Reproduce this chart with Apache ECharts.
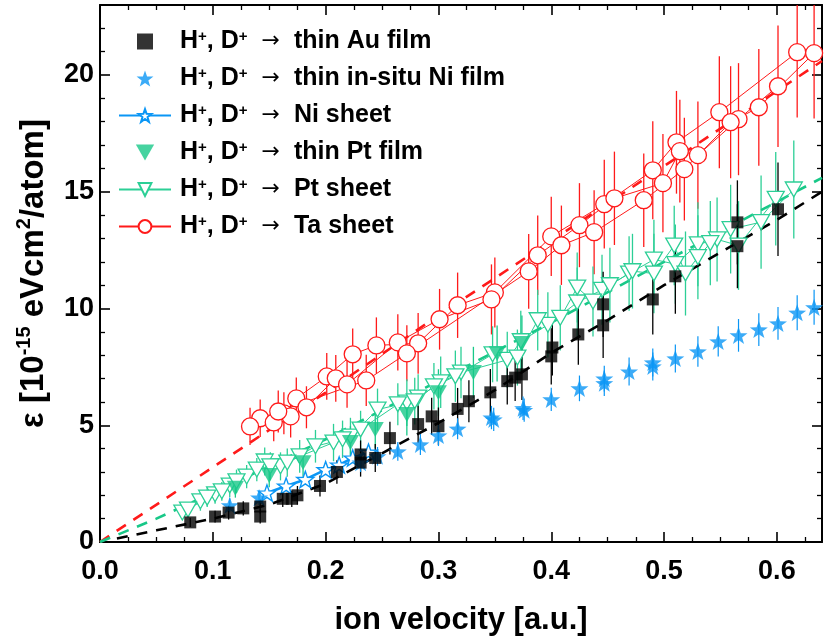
<!DOCTYPE html>
<html><head><meta charset="utf-8">
<script src="https://cdn.jsdelivr.net/npm/echarts@6/dist/echarts.min.js"></script>
<style>html,body{margin:0;padding:0;background:#fff;overflow:hidden}#c{width:825px;height:641px}</style>
</head><body><div id="c"></div>
<script>
// ---- tick labels ----
const xTicks = ['0.0','0.1','0.2','0.3','0.4','0.5','0.6'];
const yTicks = ['0','5','10','15','20'];
// ---- data: [velocity, stopping, error] ----
const auFilm = [[0.080,0.84,0.2],[0.102,1.09,0.25],[0.114,1.26,0.3],[0.127,1.44,0.3],[0.142,1.52,0.3],[0.142,1.09,0.3],[0.162,1.85,0.35],[0.170,1.85,0.35],[0.175,2.0,0.4],[0.195,2.4,0.45],[0.210,3.0,0.5],[0.231,3.75,0.6],[0.231,3.4,0.6],[0.244,3.6,0.6],[0.257,4.45,0.7],[0.282,5.05,0.8],[0.294,5.38,0.8],[0.300,4.96,0.8],[0.317,5.7,0.9],[0.327,6.03,0.9],[0.346,6.41,1.0],[0.361,6.89,1.0],[0.368,7.04,1.0],[0.374,7.18,1.1],[0.400,7.95,1.2],[0.401,8.33,1.2],[0.424,8.89,1.3],[0.446,10.18,1.4],[0.446,9.28,1.4],[0.490,10.39,1.5],[0.510,11.38,1.6],[0.565,13.69,1.8],[0.565,12.67,1.8],[0.601,14.25,2.0]];
const niFilm = [[0.115,1.57,0.3],[0.141,1.9,0.3],[0.231,3.4,0.4],[0.246,3.67,0.4],[0.264,3.88,0.4],[0.284,4.18,0.45],[0.300,4.56,0.45],[0.317,4.85,0.45],[0.347,5.33,0.5],[0.349,5.25,0.5],[0.375,5.73,0.5],[0.376,5.65,0.5],[0.400,6.11,0.5],[0.425,6.58,0.55],[0.447,7.0,0.55],[0.447,6.8,0.55],[0.469,7.3,0.6],[0.490,7.69,0.6],[0.490,7.52,0.6],[0.510,7.86,0.6],[0.530,8.16,0.65],[0.548,8.59,0.65],[0.566,8.85,0.7],[0.584,9.1,0.7],[0.601,9.36,0.7],[0.618,9.82,0.75],[0.633,10.05,0.75]];
const niSheet = [[0.148,2.1],[0.165,2.4],[0.182,2.68],[0.200,3.1],[0.212,3.3],[0.224,3.6],[0.238,3.85]];
const ptFilm = [[0.120,2.3,0.4],[0.150,2.85,0.5],[0.180,3.4,0.6],[0.222,4.26,0.7],[0.244,4.82,0.8],[0.272,5.46,0.9],[0.300,6.4,1.0],[0.331,7.26,1.1],[0.352,8.07,1.2],[0.374,8.5,1.2]];
const ptSheetA = [[0.073,1.26,0.3],[0.089,1.74,0.4],[0.102,2.04,0.4],[0.115,2.42,0.5],[0.130,2.8,0.5],[0.146,3.45,0.6],[0.160,3.24,0.6],[0.177,3.67,0.7],[0.207,4.26,0.8],[0.222,4.52,0.8],[0.246,5.67,0.9],[0.272,5.97,1.0],[0.282,6.19,1.0],[0.302,6.84,1.1],[0.320,7.26,1.1],[0.361,7.8,1.2],[0.373,8.6,1.3],[0.397,9.3,1.4],[0.423,10.26,1.5],[0.445,10.8,1.5],[0.469,11.5,1.6],[0.491,12.1,1.7],[0.510,11.9,1.7],[0.530,12.75,1.8],[0.547,12.96,1.8],[0.566,12.7,1.9],[0.599,14.7,2.0]];
const ptSheetB = [[0.078,1.39,0.3],[0.095,1.9,0.4],[0.108,2.17,0.4],[0.121,2.6,0.5],[0.139,3.1,0.5],[0.151,3.24,0.6],[0.166,3.4,0.6],[0.191,4.1,0.7],[0.215,4.4,0.8],[0.231,4.82,0.8],[0.264,5.9,0.9],[0.279,6.03,1.0],[0.296,6.67,1.0],[0.315,7.1,1.1],[0.348,8.04,1.2],[0.370,7.9,1.2],[0.388,9.5,1.3],[0.408,9.6,1.4],[0.423,10.9,1.5],[0.437,10.3,1.5],[0.452,11.0,1.6],[0.472,11.6,1.6],[0.491,11.5,1.7],[0.509,12.7,1.7],[0.519,11.5,1.8],[0.530,12.2,1.8],[0.541,12.8,1.8],[0.559,13.4,1.9],[0.586,13.7,2.0],[0.615,15.1,2.1]];
const taSheetA = [[0.142,5.30,0.8],[0.163,5.51,0.9],[0.174,6.15,0.9],[0.201,7.09,1.0],[0.224,8.04,1.1],[0.245,8.42,1.2],[0.282,8.51,1.3],[0.317,10.14,1.4],[0.350,10.69,1.5],[0.400,13.09,1.7],[0.447,14.47,1.9],[0.490,15.92,2.1],[0.511,17.12,2.2],[0.549,18.41,2.4],[0.618,20.98,2.8]];
const taSheetB = [[0.133,4.95,0.8],[0.154,5.12,0.8],[0.169,5.38,0.9],[0.183,5.77,0.9],[0.209,7.01,1.0],[0.219,6.75,1.0],[0.264,8.55,1.2],[0.301,9.54,1.3],[0.347,10.39,1.5],[0.388,12.28,1.7],[0.425,13.57,1.8],[0.456,14.72,2.0],[0.499,15.37,2.1],[0.514,16.74,2.2],[0.530,16.57,2.3],[0.566,18.11,2.4],[0.601,19.52,2.6]];
const taSheetC = [[0.158,5.59,0.9],[0.236,6.92,1.1],[0.272,8.08,1.2],[0.380,11.59,1.6],[0.409,12.71,1.7],[0.438,13.27,1.8],[0.482,14.64,2.0],[0.518,15.97,2.2],[0.559,17.98,2.4],[0.584,18.62,2.5],[0.633,20.94,2.8]];
// ---- fitted curves (dashed) ----
const fitTa = [[0,0],[0.1,3.2],[0.2,6.4],[0.3,9.7],[0.4,12.9],[0.5,16.1],[0.64,20.6]];
const fitPt = [[0,0],[0.05,1.0],[0.1,2.1],[0.2,4.4],[0.3,6.9],[0.4,9.4],[0.5,12.0],[0.64,15.6]];
const fitAu = [[0.015,0.15],[0.05,0.5],[0.1,1.0],[0.15,1.6],[0.2,2.5],[0.25,3.8],[0.3,5.1],[0.35,6.5],[0.4,8.1],[0.45,9.5],[0.5,11.0],[0.55,12.4],[0.6,13.8],[0.64,15.0]];

const C_AU='#000000', C_NI='#0a96f5', C_PTF='#18c888', C_PTS='#2ccf96', C_TA='#ff1a1a';
const STAR='path://M0,-1L0.235,-0.324L0.951,-0.309L0.380,0.124L0.588,0.809L0,0.4L-0.588,0.809L-0.380,0.124L-0.951,-0.309L-0.235,-0.324Z';
const TRI='path://M0,0L2,0L1,1.75Z';
const SQ='path://M0,0L1,0L1,1L0,1Z';
const FONT='Liberation Sans';

const labels = {
  au:'thin Au film', niF:'thin in-situ Ni film', niS:'Ni sheet', ptF:'thin Pt film', ptS:'Pt sheet', ta:'Ta sheet'
};

function errSeries(arr,color,w){
  return {type:'custom', silent:true, z:1, clip:true,
    data: arr.map(d=>[d[0], d[1]-d[2], d[1]+d[2]]),
    encode:{x:0,y:[1,2]},
    renderItem:function(params,api){
      const p1=api.coord([api.value(0),api.value(1)]), p2=api.coord([api.value(0),api.value(2)]);
      return {type:'line', shape:{x1:p1[0],y1:p1[1],x2:p2[0],y2:p2[1]}, style:{stroke:color,lineWidth:w||1.3}};
    }};
}
const xy = a => a.map(d=>[d[0],d[1]]);
function lineRun(name,arr,color,sym,size){
  return {name, type:'line', data:xy(arr), symbol:sym, symbolSize:size, symbolKeepAspect:true,
    lineStyle:{color,width:1}, itemStyle:{color:'#fff',borderColor:color,borderWidth:1.3}, z:3, clip:true};
}
function fit(arr,color){
  return {type:'line', data:arr, symbol:'none', silent:true, z:2,
    lineStyle:{color,width:2.6,type:[11,9]}, clip:true};
}

const chart = echarts.init(document.getElementById('c'), null, {renderer:'canvas'});
const axLine = {show:true,onZero:false,lineStyle:{color:'#000',width:2}};
const axTick = {show:true,inside:true,length:10,lineStyle:{color:'#000',width:1.6}};
const minT = n => ({show:true,length:5,splitNumber:n,lineStyle:{color:'#000',width:1.3}});
const option = {
  animation:false,
  backgroundColor:'#fff',
  grid:{left:100,right:3,top:5,bottom:99,containLabel:false,outerBoundsMode:'none'},
  xAxis:[
    {type:'value',min:0,max:0.64,interval:0.1,position:'bottom',
      axisLine:axLine, axisTick:axTick, minorTick:minT(4), splitLine:{show:false},
      axisLabel:{margin:16,color:'#000',fontFamily:FONT,fontWeight:'bold',fontSize:27,showMaxLabel:false,
        formatter:v=>{const i=Math.round(v*10);return xTicks[i]!==undefined?xTicks[i]:'';}},
      name:'ion velocity [a.u.]', nameLocation:'middle', nameGap:63,
      nameTextStyle:{color:'#000',fontFamily:FONT,fontWeight:'bold',fontSize:31}
    },
    {type:'value',min:0,max:0.64,interval:0.1,position:'top',
      axisLine:axLine, axisTick:axTick, minorTick:minT(4),
      axisLabel:{show:false}, splitLine:{show:false}}
  ],
  yAxis:[
    {type:'value',min:0,max:23,interval:5,position:'left',
      axisLine:axLine, axisTick:axTick, minorTick:minT(5), splitLine:{show:false},
      axisLabel:{margin:6,color:'#000',fontFamily:FONT,fontWeight:'bold',fontSize:27,showMaxLabel:false,
        formatter:v=>{const i=Math.round(v/5);return yTicks[i]!==undefined?yTicks[i]:'';}},
      name:'{n|ε [10}{s|-15}{n| eVcm}{s|2}{n|/atom]}', nameLocation:'middle', nameGap:50, nameRotate:90,
      nameTextStyle:{color:'#000',rich:{
        n:{fontFamily:FONT,fontWeight:'bold',fontSize:33,color:'#000',lineHeight:36,verticalAlign:'bottom'},
        s:{fontFamily:FONT,fontWeight:'bold',fontSize:20,color:'#000',lineHeight:36,verticalAlign:'top',padding:[0,0,13,0]}}}
    },
    {type:'value',min:0,max:23,interval:5,position:'right',
      axisLine:axLine, axisTick:axTick, minorTick:minT(5),
      axisLabel:{show:false}, splitLine:{show:false}}
  ],
  legend:{
    left:118, top:29, orient:'vertical', itemGap:12, itemWidth:52, itemHeight:16, padding:0,
    data:[{name:'au',icon:SQ},'niF','niS','ptF','ptS','ta'],
    formatter:function(name){return '{n|H}{s|+}{n|, D}{s|+}{a|  →  }{n|'+labels[name]+'}';},
    textStyle:{color:'#000',padding:[0,0,0,4],rich:{
      n:{fontFamily:FONT,fontWeight:'bold',fontSize:25,color:'#000',lineHeight:25},
      s:{fontFamily:FONT,fontWeight:'bold',fontSize:15,color:'#000',verticalAlign:'top',lineHeight:14},
      a:{fontFamily:'DejaVu Sans',fontWeight:'normal',fontSize:22,color:'#000',lineHeight:25}
    }}
  },
  series:[
    fit(fitTa,C_TA), fit(fitPt,C_PTF), fit(fitAu,C_AU),
    errSeries(taSheetA,C_TA), errSeries(taSheetB,C_TA), errSeries(taSheetC,C_TA),
    errSeries(ptSheetA,C_PTS), errSeries(ptSheetB,C_PTS), errSeries(ptFilm,C_PTF),
    errSeries(auFilm,C_AU), errSeries(niFilm,C_NI,1.2),
    lineRun('ta',taSheetA,C_TA,'circle',17), lineRun('ta',taSheetB,C_TA,'circle',17), lineRun('ta',taSheetC,C_TA,'circle',17),
    lineRun('ptS',ptSheetA,C_PTS,TRI,17), lineRun('ptS',ptSheetB,C_PTS,TRI,17),
    {name:'ptF',type:'scatter',data:xy(ptFilm),symbol:TRI,symbolSize:17,symbolKeepAspect:true,itemStyle:{color:C_PTF},z:4},
    {name:'niS',type:'line',data:niSheet,symbol:STAR,symbolSize:17,symbolKeepAspect:true,
      lineStyle:{color:C_NI,width:2.6},itemStyle:{color:'#fff',borderColor:C_NI,borderWidth:1.4},z:4},
    {name:'niF',type:'scatter',data:xy(niFilm),symbol:STAR,symbolSize:18,symbolKeepAspect:true,itemStyle:{color:C_NI},z:5},
    {name:'au',type:'scatter',data:xy(auFilm),symbol:SQ,symbolSize:12,itemStyle:{color:C_AU},z:5}
  ]
};
chart.setOption(option);
</script></body></html>
